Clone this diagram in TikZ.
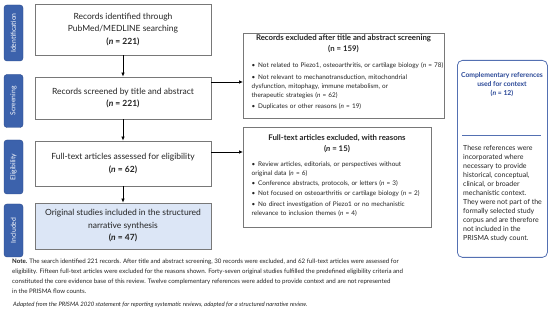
\documentclass[tikz,border=0pt]{standalone}
\usepackage{fontspec}
\setmainfont{Lato}
\usetikzlibrary{arrows.meta}
\definecolor{sideblue}{RGB}{60,98,172}
\definecolor{sideedge}{RGB}{40,72,140}
\definecolor{inclfill}{RGB}{220,230,246}
\definecolor{boxgray}{RGB}{120,120,120}
\definecolor{refblue}{RGB}{84,112,178}
\definecolor{reftitle}{RGB}{40,70,150}
\definecolor{txt}{RGB}{35,35,35}
\newcommand\bitem[1]{\par\hangindent=6.5pt\hangafter=1\noindent\makebox[6.5pt][l]{\textbullet}#1}
\begin{document}
\begin{tikzpicture}[x=1pt,y=-1pt,
  sidelab/.style={draw=sideedge, fill=sideblue, rounded corners=3pt, rotate=90,
    minimum height=19pt, inner sep=0pt, text=white, font=\fontsize{6.8}{7}\selectfont},
  mainbox/.style={draw=boxgray, line width=0.7pt, minimum width=176pt, align=center,
    inner sep=0pt, text=txt, font=\fontsize{8.5}{12.5}\selectfont},
  exbox/.style={draw=boxgray, line width=0.7pt, anchor=north west, inner sep=0pt},
  extitle/.style={anchor=north, inner sep=0pt, align=center, text=txt,
    font=\bfseries\fontsize{7.8}{10.8}\selectfont},
  extext/.style={anchor=north west, inner sep=0pt, text=txt, text width=230pt,
    font=\fontsize{6.4}{9.2}\selectfont},
  arr/.style={line width=0.7pt, -{Latex[length=4pt,width=3.5pt]}},
]
\useasboundingbox (0,0) rectangle (550,312);

% side labels
\node[sidelab, minimum width=56pt] (lid) at (13.5,33) {Identification};
\node[sidelab, minimum width=53pt] (lsc) at (13.5,101) {Screening};
\node[sidelab, minimum width=54pt] (lel) at (13.5,167) {Eligibility};
\node[sidelab, minimum width=53pt] (lin) at (13.5,230.5) {Included};

% main boxes
\node[mainbox, minimum height=51pt] (idf) at (123,29.5)
  {Records identified through\\PubMed/MEDLINE searching\\\textbf{(\textit{n} = 221)}};
\node[mainbox, minimum height=42pt] (scr) at (123,98)
  {Records screened by title and abstract\\\textbf{(\textit{n} = 221)}};
\node[mainbox, minimum height=45pt] (elg) at (123,163.5)
  {Full-text articles assessed for eligibility\\\textbf{(\textit{n} = 62)}};
\node[mainbox, fill=inclfill, minimum height=46pt] (inc) at (123,226)
  {Original studies included in the structured\\narrative synthesis\\\textbf{(\textit{n} = 47)}};

% exclusion box 1
\node[exbox, minimum width=201pt, minimum height=85pt] (ex1) at (243,33) {};
\node[extitle] (ex1h) at (343.5,34.5)
  {Records excluded after title and abstract screening\\(n = 159)};
\node[extext] (ex1t) at (251.5,56.5) {%
  \setlength{\parskip}{2.0pt}\raggedright
  \bitem{Not related to Piezo1, osteoarthritis, or cartilage biology (\textit{n} = 78)}
  \bitem{Not relevant to mechanotransduction, mitochondrial\\dysfunction, mitophagy, immune metabolism, or\\therapeutic strategies (\textit{n} = 62)}
  \bitem{Duplicates or other reasons (\textit{n} = 19)}\par};

% exclusion box 2
\node[exbox, minimum width=188pt, minimum height=100pt] (ex2) at (243,127) {};
\node[extitle, font=\bfseries\fontsize{7.8}{11.5}\selectfont] (ex2h) at (337,134.5)
  {Full-text articles excluded, with reasons\\(\textit{n} = 15)};
\node[extext] (ex2t) at (251.5,156) {%
  \setlength{\parskip}{1.0pt}\raggedright
  \bitem{Review articles, editorials, or perspectives without\\original data (\textit{n} = 6)}
  \bitem{Conference abstracts, protocols, or letters (\textit{n} = 3)}
  \bitem{Not focused on osteoarthritis or cartilage biology (\textit{n} = 2)}
  \bitem{No direct investigation of Piezo1 or no mechanistic\\relevance to inclusion themes (\textit{n} = 4)}\par};

% complementary references box
\node[draw=refblue, line width=0.8pt, rounded corners=5pt, anchor=north west,
  minimum width=90pt, minimum height=197pt, inner sep=0pt] (cref) at (457,60) {};
\node[inner sep=0pt, align=center, text=reftitle, anchor=north,
  font=\bfseries\fontsize{6.8}{9}\selectfont] (creft) at (502,72)
  {Complementary references\\used for context\\(\textit{n} = 12)};
\draw[refblue, line width=0.8pt] (462,135) -- (541,135);
\node[inner sep=0pt, align=left, text=txt, anchor=north west,
  font=\fontsize{7}{9}\selectfont] (crefb) at (463,145)
  {These references were\\incorporated where\\necessary to provide\\historical, conceptual,\\clinical, or broader\\mechanistic context.\\They were not part of the\\formally selected study\\corpus and are therefore\\not included in the\\PRISMA study count.};

% connectors
\coordinate (a1) at (0,82);
\coordinate (a2) at (0,152);
\draw[arr] (idf.south) -- (scr.north);
\draw[arr] (scr.south) -- (elg.north);
\draw[arr] (elg.south) -- (inc.north);
\draw[arr] (scr.east |- a1) -- (ex1.west |- a1);
\draw[arr] (elg.east |- a2) -- (ex2.west |- a2);

% note
\node[inner sep=0pt, align=left, text=txt, anchor=north west,
  font=\fontsize{6.15}{10}\selectfont] (note) at (12,258.5)
  {\textbf{Note.} The search identified 221 records. After title and abstract screening, 30 records were excluded, and 62 full-text articles were assessed for\\
   eligibility. Fifteen full-text articles were excluded for the reasons shown. Forty-seven original studies fulfilled the predefined eligibility criteria and\\
   constituted the core evidence base of this review. Twelve complementary references were added to provide context and are not represented\\
   in the PRISMA flow counts.};
\node[inner sep=0pt, anchor=north west, text=txt,
  font=\itshape\fontsize{6.0}{7}\selectfont] (adapt) at (13,302)
  {Adapted from the PRISMA 2020 statement for reporting systematic reviews, adapted for a structured narrative review.};
\end{tikzpicture}
\end{document}
